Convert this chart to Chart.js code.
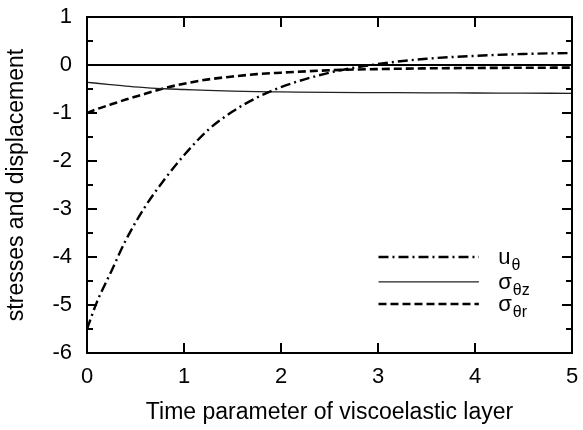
<!DOCTYPE html>
<html>
<head>
<meta charset="utf-8">
<script src="https://cdn.jsdelivr.net/npm/chart.js@4.4.1/dist/chart.umd.min.js"></script>
<style>
html,body{margin:0;padding:0;background:#fff;}
#wrap{width:583px;height:430px;}
</style>
</head>
<body>
<div id="wrap"><canvas id="c" width="583" height="430"></canvas></div>
<script>
// ---- data ----
const timeParam = [0, 0.1, 0.25, 0.4, 0.6, 0.8, 1.0, 1.25, 1.5, 1.75, 2.0, 2.5, 3.0, 3.5, 4.0, 4.5, 5.0];
const uTheta    = [-5.5, -4.95, -4.3, -3.65, -2.95, -2.38, -1.88, -1.35, -0.97, -0.68, -0.46, -0.16, 0.02, 0.13, 0.19, 0.23, 0.25];
const sigmaTZ   = [-0.36, -0.38, -0.41, -0.44, -0.47, -0.495, -0.51, -0.53, -0.545, -0.555, -0.56, -0.57, -0.575, -0.58, -0.583, -0.587, -0.59];
const sigmaTR   = [-1.0, -0.92, -0.82, -0.72, -0.6, -0.48, -0.39, -0.3, -0.24, -0.19, -0.16, -0.11, -0.085, -0.07, -0.062, -0.057, -0.055];
const xTickLabels = ['0', '1', '2', '3', '4', '5'];
const yTickLabels = ['-6', '-5', '-4', '-3', '-2', '-1', '0', '1'];
const seriesNames = [['u', 'θ'], ['σ', 'θz'], ['σ', 'θr']];
const xTitle = 'Time parameter of viscoelastic layer';
const yTitle = 'stresses and displacement';

const FONT = '"Liberation Sans", Arial, sans-serif';
const toPts = vals => timeParam.map((t, i) => ({x: t, y: vals[i]}));

const styles = [
  {borderColor: '#000', borderWidth: 2.4, borderDash: [10, 4, 2, 4]},
  {borderColor: '#222', borderWidth: 1.3, borderDash: []},
  {borderColor: '#000', borderWidth: 2.6, borderDash: [8, 4]}
];

const datasets = [uTheta, sigmaTZ, sigmaTR].map((v, i) => Object.assign({
  label: seriesNames[i].join(''),
  data: toPts(v),
  pointRadius: 0,
  fill: false,
  cubicInterpolationMode: 'monotone'
}, styles[i]));

const framePlugin = {
  id: 'frame',
  afterDatasetsDraw(chart) {
    const {ctx, chartArea: a, scales: {x, y}} = chart;
    ctx.save();
    ctx.strokeStyle = '#000';
    // zero line
    ctx.lineWidth = 2;
    const y0 = y.getPixelForValue(0);
    ctx.beginPath(); ctx.moveTo(a.left, y0); ctx.lineTo(a.right, y0); ctx.stroke();
    // inward ticks
    ctx.lineWidth = 2;
    for (let v = -6; v <= 1.001; v += 0.5) {
      const py = Math.round(y.getPixelForValue(v));
      const len = Math.abs(v - Math.round(v)) < 1e-6 ? 10 : 6;
      ctx.beginPath();
      ctx.moveTo(a.left, py); ctx.lineTo(a.left + len, py);
      ctx.moveTo(a.right, py); ctx.lineTo(a.right - len, py);
      ctx.stroke();
    }
    for (let v = 0; v <= 5; v += 1) {
      const px = Math.round(x.getPixelForValue(v));
      ctx.beginPath();
      ctx.moveTo(px, a.bottom); ctx.lineTo(px, a.bottom - 10);
      ctx.moveTo(px, a.top); ctx.lineTo(px, a.top + 10);
      ctx.stroke();
    }
    // frame
    ctx.lineWidth = 2;
    ctx.strokeRect(a.left, a.top, a.right - a.left, a.bottom - a.top);

    // legend
    const lx0 = a.left + (a.right - a.left) * 0.601;
    const lx1 = a.left + (a.right - a.left) * 0.808;
    const tx = a.left + (a.right - a.left) * 0.848;
    const rows = [y.getPixelForValue(-4.0), y.getPixelForValue(-4.52), y.getPixelForValue(-4.98)];
    chart.data.datasets.forEach((ds, i) => {
      const ry = rows[i];
      ctx.save();
      ctx.strokeStyle = ds.borderColor;
      ctx.lineWidth = ds.borderWidth;
      ctx.setLineDash(ds.borderDash || []);
      ctx.beginPath(); ctx.moveTo(lx0, ry); ctx.lineTo(lx1, ry); ctx.stroke();
      ctx.restore();
      ctx.fillStyle = '#000';
      ctx.textBaseline = 'alphabetic';
      ctx.textAlign = 'left';
      ctx.font = '22px ' + FONT;
      const main = seriesNames[i][0];
      ctx.fillText(main, tx, ry + 7);
      const w = ctx.measureText(main).width;
      ctx.font = '16px ' + FONT;
      ctx.fillText(seriesNames[i][1], tx + w + 1, ry + 13);
    });
    ctx.restore();
  }
};

new Chart(document.getElementById('c'), {
  type: 'line',
  data: {datasets},
  plugins: [framePlugin],
  options: {
    responsive: false,
    animation: false,
    devicePixelRatio: 1,
    layout: {padding: {top: 17, right: 11, left: 0, bottom: 4}},
    plugins: {legend: {display: false}, tooltip: {enabled: false}},
    scales: {
      x: {
        type: 'linear', min: 0, max: 5,
        afterFit: s => { s.height = 73; s.paddingLeft = 0; s.paddingRight = 0; },
        border: {display: false},
        grid: {display: false, drawTicks: false},
        ticks: {stepSize: 1, padding: 11, color: '#000', font: {family: FONT, size: 22},
                callback: (v) => xTickLabels[v] ?? ''},
        title: {display: true, text: xTitle, color: '#000', font: {family: FONT, size: 23}, padding: {top: 6, bottom: 0}}
      },
      y: {
        type: 'linear', min: -6, max: 1,
        afterFit: s => { s.width = 87; s.paddingTop = 0; s.paddingBottom = 0; },
        border: {display: false},
        grid: {display: false, drawTicks: false},
        ticks: {stepSize: 1, padding: 15, color: '#000', font: {family: FONT, size: 22},
                callback: (v) => yTickLabels[v + 6] ?? ''},
        title: {display: true, text: yTitle, color: '#000', font: {family: FONT, size: 23}, padding: {top: 3, bottom: 0}}
      }
    }
  }
});
</script>
</body>
</html>
